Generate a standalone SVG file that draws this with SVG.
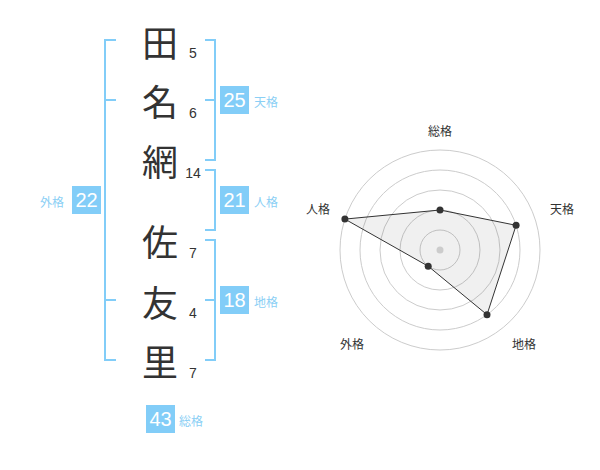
<svg xmlns="http://www.w3.org/2000/svg" width="600" height="470" viewBox="0 0 600 470">
<style>
.kanji{font-family:"Noto Sans CJK JP","Noto Sans",sans-serif;font-size:36px;fill:#333;text-anchor:middle;dominant-baseline:central}
.num{font-family:"Liberation Sans",Arial,sans-serif;font-size:14px;fill:#333;text-anchor:middle}
.br{fill:none;stroke:#82cdf8;stroke-width:2}
.box{fill:#82cdf8}
.bn{font-family:"Liberation Sans",Arial,sans-serif;font-size:20px;fill:#fff;text-anchor:middle}
.bl{font-family:"Noto Sans CJK JP","Noto Sans",sans-serif;font-size:12px;fill:#8bcff5;dominant-baseline:central}
.ring{fill:none;stroke:#cccccc;stroke-width:1}
.rl{font-family:"Noto Sans CJK JP","Noto Sans",sans-serif;font-size:12px;fill:#333;text-anchor:middle;dominant-baseline:central}
.pt{fill:#333}
</style>
<rect width="600" height="470" fill="#fff"/>
<g id="name">
<text class="kanji" x="160" y="41">田</text>
<text class="kanji" x="160" y="100">名</text>
<text class="kanji" x="160" y="160">網</text>
<text class="kanji" x="160" y="240">佐</text>
<text class="kanji" x="160" y="301">友</text>
<text class="kanji" x="160" y="360">里</text>
<text class="num" x="193" y="58">5</text>
<text class="num" x="193" y="118">6</text>
<text class="num" x="193" y="178">14</text>
<text class="num" x="193" y="258">7</text>
<text class="num" x="193" y="318">4</text>
<text class="num" x="193" y="378">7</text>
</g>
<g id="connectors">
<path class="br" d="M116,40 H105 V360 H116 M105,100 H116 M105,300 H116"/>
<path class="br" d="M205,40 H215 V160 H205 M205,100 H215"/>
<path class="br" d="M205,170 H215 V230 H205"/>
<path class="br" d="M205,240 H215 V360 H205 M205,300 H215"/>
</g>
<g id="tenkaku">
<rect class="box" x="220" y="86" width="29" height="28"/>
<text class="bn" x="234.5" y="107">25</text>
<text class="bl" x="254" y="101">天格</text>
</g>
<g id="jinkaku">
<rect class="box" x="220" y="186" width="29" height="28"/>
<text class="bn" x="234.5" y="207">21</text>
<text class="bl" x="254" y="201">人格</text>
</g>
<g id="chikaku">
<rect class="box" x="220" y="286" width="29" height="28"/>
<text class="bn" x="234.5" y="307">18</text>
<text class="bl" x="254" y="301">地格</text>
</g>
<g id="gaikaku">
<rect class="box" x="72" y="186" width="29" height="28"/>
<text class="bn" x="86.5" y="207">22</text>
<text class="bl" x="40" y="201">外格</text>
</g>
<g id="soukaku">
<rect class="box" x="146" y="405" width="29" height="28"/>
<text class="bn" x="160.5" y="426">43</text>
<text class="bl" x="179" y="420">総格</text>
</g>
<g id="radar">
<circle class="ring" cx="440" cy="250" r="20"/>
<circle class="ring" cx="440" cy="250" r="40"/>
<circle class="ring" cx="440" cy="250" r="60"/>
<circle class="ring" cx="440" cy="250" r="80"/>
<circle class="ring" cx="440" cy="250" r="100"/>
<polygon points="440,210 516.1,225.3 487,314.7 428.2,266.2 344.9,219.1" fill="#000" fill-opacity="0.06" stroke="#333" stroke-width="1"/>
<circle cx="440" cy="250" r="3.5" fill="#cccccc"/>
<circle class="pt" cx="440" cy="210" r="3.5"/>
<circle class="pt" cx="516.1" cy="225.3" r="3.5"/>
<circle class="pt" cx="487" cy="314.7" r="3.5"/>
<circle class="pt" cx="428.2" cy="266.2" r="3.5"/>
<circle class="pt" cx="344.9" cy="219.1" r="3.5"/>
<text class="rl" x="440" y="130">総格</text>
<text class="rl" x="562" y="208">天格</text>
<text class="rl" x="524" y="343">地格</text>
<text class="rl" x="352" y="343">外格</text>
<text class="rl" x="318" y="208">人格</text>
</g>
</svg>
